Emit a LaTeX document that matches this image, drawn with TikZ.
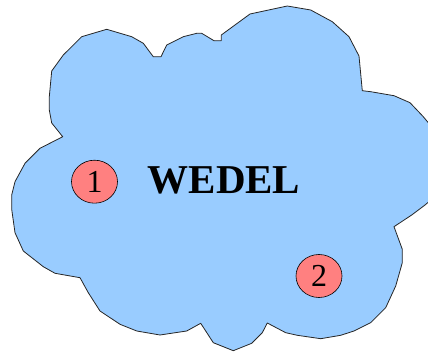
\documentclass[tikz,border=0pt]{standalone}
\usepackage{fontspec}
\setmainfont{Liberation Serif}
\usetikzlibrary{shapes.geometric}
\definecolor{wolke}{HTML}{99CCFF}
\definecolor{marke}{HTML}{FF8080}
\begin{document}
\begin{tikzpicture}[x=1pt,y=-1pt,
  rand/.style={draw=black!85,line width=0.8pt,fill=wolke,line join=round},
  ort/.style={draw,ellipse,fill=marke,line width=0.6pt,minimum width=46pt,minimum height=43pt,inner sep=0pt,font=\fontsize{32}{32}\selectfont},
  titel/.style={font=\fontsize{41}{41}\selectfont\bfseries}]
  \useasboundingbox (0,0) rectangle (428,352);
  \clip (0,0) rectangle (428,352);
  % Umriss der Stadt
  \draw[rand] (62.7,136.7) -- (51.7,123) -- (49.3,110) -- (49.3,96.7) -- (51.7,71) -- (63.3,55)
    -- (81.7,36.7) -- (106.7,29.3) -- (131.7,36.7) -- (143.3,43.3) -- (153.3,56.7) -- (161,56.7)
    -- (166.7,45) -- (183.3,36.7) -- (196.7,33.3) -- (201.7,33.3) -- (214,40.7) -- (221.3,40.7)
    -- (221.3,35) -- (250,14) -- (287.3,6) -- (310.7,10) -- (332.3,21.7) -- (349,36.7)
    -- (359,56) -- (362.3,90.7) -- (370.7,91.7) -- (394,95.7) -- (410,102.7) -- (423.3,116.7)
    -- (431,126) -- (431,200) -- (425,205) -- (411.7,215) -- (394,226.7) -- (402.3,249.3)
    -- (402.3,262.7) -- (395.7,286) -- (385.7,307.7) -- (370.7,322.7) -- (354,331) -- (340.7,335.3)
    -- (320.7,338.7) -- (297.3,335.3) -- (285.7,332.7) -- (267.3,323) -- (262.3,332.7)
    -- (251.7,343.3) -- (233.3,350.7) -- (213.3,342.7) -- (200.7,323.3) -- (186.7,331)
    -- (160,335) -- (136.7,331) -- (120,324.3) -- (100,311) -- (88.3,292.7) -- (80,277.7)
    -- (55,273.3) -- (43.3,266.7) -- (23.3,251) -- (15,232.7) -- (11.7,209.3) -- (11.7,195)
    -- (15,181.7) -- (25,163.3) -- (40,148.3) -- cycle;
  \node[titel] (wedel) at (224,180) {WEDEL};
  \node[ort] (ort1) at (94.5,181.7) {1};
  \node[ort] (ort2) at (319,276) {2};
\end{tikzpicture}
\end{document}
